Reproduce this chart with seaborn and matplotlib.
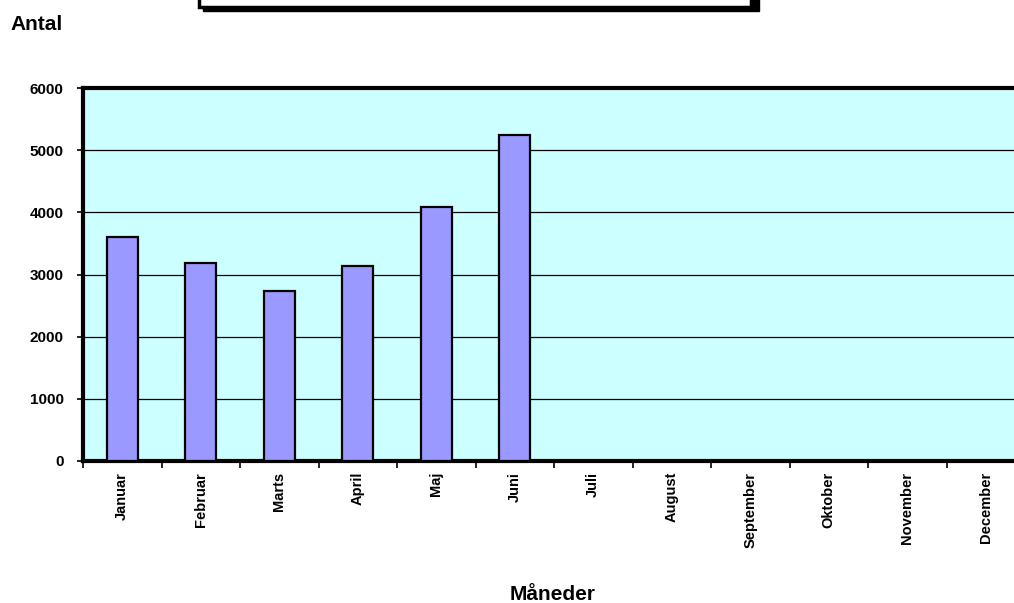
import pandas as pd
import seaborn as sns
import matplotlib.pyplot as plt
from matplotlib.patches import Rectangle
from matplotlib.ticker import FixedLocator

# data
months = ['Januar', 'Februar', 'Marts', 'April', 'Maj', 'Juni',
          'Juli', 'August', 'September', 'Oktober', 'November', 'December']
months_with_data = ['Januar', 'Februar', 'Marts', 'April', 'Maj', 'Juni']
antal = [3610, 3180, 2730, 3130, 4090, 5250]
yticks = [0, 1000, 2000, 3000, 4000, 5000, 6000]

df = pd.DataFrame({'Måned': months_with_data, 'Antal': antal})

sns.set_style('white')
plt.rcParams['font.family'] = ['Liberation Sans', 'DejaVu Sans']
plt.rcParams['text.color'] = 'black'
plt.rcParams['xtick.color'] = 'black'
plt.rcParams['ytick.color'] = 'black'

fig = plt.figure(figsize=(10.14, 6.03), dpi=100)
W, H = 1014, 603
ax = fig.add_axes([83 / W, 1 - 461 / H, 942 / W, (461 - 88) / H])
ax.set_facecolor('#CCFFFF')

sns.barplot(data=df, x='Måned', y='Antal', order=months, color='#9999FF',
            saturation=1, width=0.4, edgecolor='black', linewidth=1.6, ax=ax, zorder=3)

ax.set_xlim(-0.5, len(months) - 0.5)
ax.set_ylim(0, 6000)
ax.set_yticks(yticks)
ax.set_yticklabels([str(t) for t in yticks], fontsize=11, fontweight='bold')
ax.yaxis.grid(True, color='black', linewidth=0.9, zorder=1)
ax.set_axisbelow(True)

# Excel style: ticks between categories, labels at centres
ax.xaxis.set_major_locator(FixedLocator([i - 0.5 for i in range(len(months) + 1)]))
ax.set_xticklabels([])
ax.set_xticks(range(len(months)), minor=True)
ax.set_xticklabels(months, minor=True, rotation=90, fontsize=10.5, fontweight='bold', va='top')
ax.tick_params(axis='x', which='major', direction='out', length=5, width=1.2, color='black', bottom=True)
ax.tick_params(axis='x', which='minor', length=0, pad=8)
ax.tick_params(axis='y', direction='out', length=4, width=1.2, color='black', left=True, pad=10)

for side in ['left', 'bottom', 'top']:
    ax.spines[side].set_visible(True)
    ax.spines[side].set_color('black')
    ax.spines[side].set_linewidth(3)
ax.spines['right'].set_visible(False)

ax.set_ylabel('')
ax.set_xlabel('')
fig.text(553 / W, 1 - 600 / H, 'Måneder', fontsize=15, fontweight='bold', ha='center', va='baseline')
fig.text(10 / W, 1 - 25 / H, 'Antal', fontsize=15, fontweight='bold', ha='left', va='center')

# empty title box (cut off at top)
fig.patches.append(Rectangle((203 / W, 1 - 11 / H), 556 / W, 40 / H, transform=fig.transFigure,
                             facecolor='black', edgecolor='black', zorder=5))
fig.patches.append(Rectangle((199 / W, 1 - 7 / H), 552 / W, 40 / H, transform=fig.transFigure,
                             facecolor='white', edgecolor='black', linewidth=2.5, zorder=6))

fig.savefig('out.png', dpi=100)
